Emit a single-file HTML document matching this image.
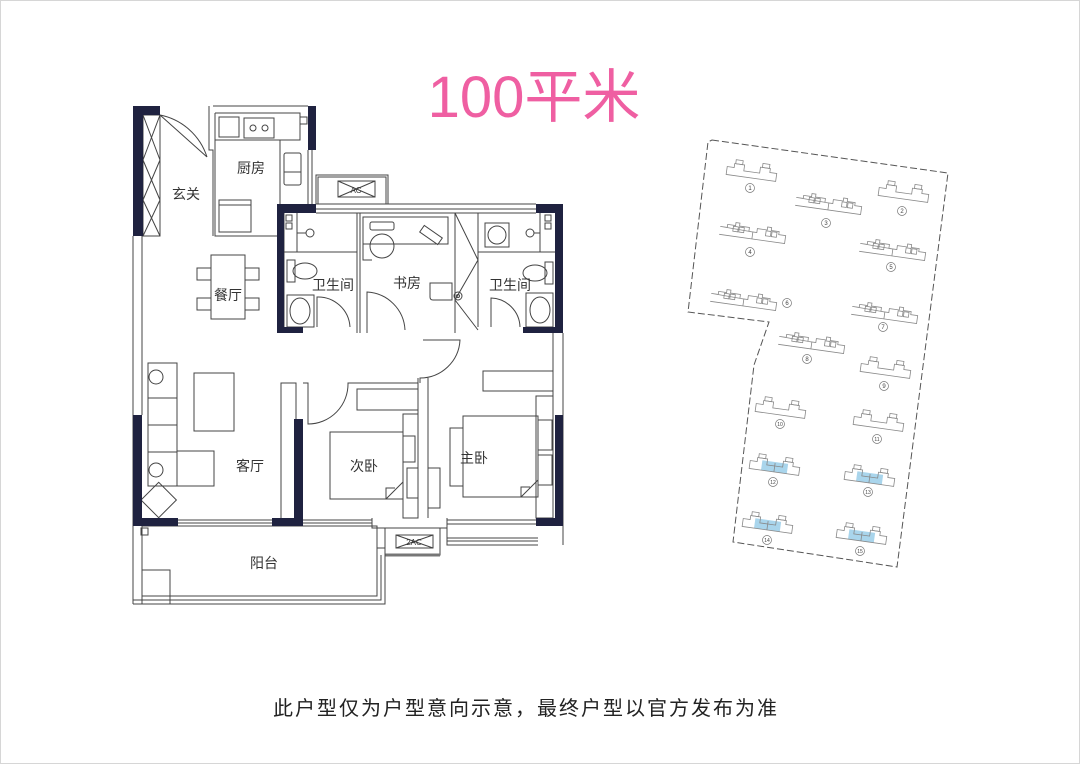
<!DOCTYPE html>
<html><head><meta charset="utf-8"><style>
html,body{margin:0;padding:0;background:#fff}
body{width:1080px;height:764px;overflow:hidden;position:relative;font-family:"Liberation Sans","Noto Sans CJK SC",sans-serif}
.frame{position:absolute;left:0;top:0;width:1078px;height:762px;border:1px solid #d6d6d6;}
</style></head><body><div class="frame"></div>
<svg width="1080" height="764" viewBox="0 0 1080 764" style="position:absolute;left:0;top:0" font-family="Liberation Sans, Noto Sans CJK SC, sans-serif">
<text x="534" y="117" text-anchor="middle" font-size="58" fill="#ef5fa2">100平米</text>
<text x="526" y="715" text-anchor="middle" font-size="20" letter-spacing="2" fill="#222">此户型仅为户型意向示意，最终户型以官方发布为准</text>

<g fill="none" stroke="#444" stroke-width="1">
<line x1="133" y1="236" x2="133" y2="604"/><line x1="142" y1="236" x2="142" y2="415"/>
<rect x="143" y="115" width="17" height="121"/>
<path d="M143 115 L160 160 M160 115 L143 160 M143 160 L160 200 M160 160 L143 200 M143 200 L160 236 M160 200 L143 236"/>
<path d="M160 115 L207 157 M160 115 A62 62 0 0 1 207 157"/>
<path d="M209 106 V150 H213 V236 M213 106 H308 M215 113 H300 V140 H280 V204 M215 113 V236 H277 M215 140 H280"/>
<rect x="219" y="117" width="20" height="20"/><rect x="244" y="118" width="30" height="20"/>
<circle cx="253" cy="128" r="3"/><circle cx="265" cy="128" r="3"/>
<rect x="284" y="153" width="17" height="32" rx="2"/><line x1="284" y1="172" x2="301" y2="172"/>
<rect x="219" y="200" width="32" height="32"/><line x1="219" y1="205" x2="251" y2="205"/>
<rect x="300" y="117" width="7" height="7"/>
<path d="M308 150 V204 M312 150 V204"/>
<rect x="316" y="175" width="72" height="29"/><rect x="318" y="177" width="68" height="27"/>
<rect x="338" y="181" width="37" height="16"/><path d="M338 181 L375 197 M375 181 L338 197"/>
<path d="M316 204 H536 M316 209 H536 M316 213 H536"/>
<path d="M284 213 V327 M357 213 V333 M360 213 V333 M284 252 H357 M297 213 V252"/>
<rect x="286" y="215" width="6" height="6"/><rect x="286" y="223" width="6" height="6"/>
<circle cx="310" cy="233" r="4"/><line x1="297" y1="233" x2="306" y2="233"/>
<rect x="287" y="260" width="8" height="22"/><ellipse cx="305" cy="271" rx="12" ry="8"/>
<rect x="287" y="295" width="27" height="32"/><ellipse cx="300" cy="311" rx="10" ry="13"/>
<path d="M317 327 V297 A32 32 0 0 1 350 327"/>
<rect x="363" y="217" width="85" height="27"/><path d="M363 244 V260 H372"/>
<rect x="370" y="222" width="24" height="8" rx="2"/><circle cx="382" cy="246" r="12"/>
<rect x="420" y="231" width="22" height="8" transform="rotate(35 431 235)"/>
<path d="M430 283 H452 V300 H433 Q430 300 430 297 Z"/>
<path d="M367 333 V292 A40 40 0 0 1 405 330"/>
<path d="M455 213 V333 M478 213 V327 M455 213 L478 260 L455 300 L478 330"/>
<circle cx="458" cy="296" r="4"/><circle cx="458" cy="296" r="1.5"/>
<path d="M478 252 H555 M540 213 V252"/>
<rect x="485" y="223" width="24" height="24"/><circle cx="497" cy="235" r="9"/>
<circle cx="530" cy="233" r="4"/><line x1="534" y1="233" x2="540" y2="233"/>
<rect x="545" y="215" width="6" height="6"/><rect x="545" y="223" width="6" height="6"/>
<rect x="545" y="262" width="8" height="22"/><ellipse cx="535" cy="273" rx="12" ry="8"/>
<rect x="526" y="293" width="27" height="34"/><ellipse cx="540" cy="310" rx="10" ry="13"/>
<path d="M491 327 V298 A30 30 0 0 1 520 327"/>
<path d="M553 333 V415 M563 333 V545 M423 340 H460 A40 40 0 0 1 420 378 V383"/>
<rect x="148" y="363" width="29" height="123"/><path d="M148 398 H177 M148 425 H177 M148 452 H177"/>
<rect x="177" y="451" width="37" height="35"/>
<rect x="194" y="373" width="40" height="58"/>
<circle cx="156" cy="377" r="7"/><circle cx="156" cy="470" r="7"/>
<rect x="146" y="487" width="25" height="25" transform="rotate(45 158 500)"/>
<rect x="281" y="383" width="15" height="137"/>
<rect x="211" y="255" width="34" height="64"/>
<rect x="197" y="268" width="14" height="12"/><rect x="197" y="298" width="14" height="12"/>
<rect x="245" y="268" width="14" height="12"/><rect x="245" y="298" width="14" height="12"/>
<path d="M303 383 H308 V424 A40 40 0 0 0 348 383 H418 M308 383 V424"/>
<rect x="357" y="389" width="61" height="21"/>
<rect x="330" y="432" width="73" height="67"/><path d="M386 499 L403 482 M386 499 V488 H395"/>
<rect x="403" y="414" width="15" height="104"/><rect x="403" y="436" width="12" height="26"/><rect x="407" y="468" width="11" height="30"/>
<path d="M418 378 V518 M428 378 V518"/>
<rect x="428" y="468" width="12" height="40"/>
<rect x="483" y="371" width="70" height="20"/>
<rect x="463" y="416" width="75" height="81"/><path d="M521 497 L538 480 M521 497 V487 H530"/>
<rect x="450" y="428" width="13" height="58"/>
<rect x="536" y="396" width="17" height="122"/><rect x="538" y="420" width="14" height="30"/><rect x="538" y="455" width="14" height="30"/>
<path d="M178 520 H272 M178 523 H272 M303 520 H372 M303 523 H372 M447 520 H536 M447 524 H536"/>
<path d="M372 518 V528 H447 V518 M447 528 V545 H538 M447 538 H538 M447 541 H538"/>
<rect x="385" y="528" width="55" height="27"/><rect x="396" y="535" width="37" height="13"/>
<path d="M396 535 L433 548 M433 535 L396 548"/>
<line x1="385" y1="555" x2="440" y2="555" stroke-width="3" stroke="#777"/>
<path d="M142 526 H377 V596 H142 Z M377 548 H385 V604 H133 M381 555 V600 H133"/>
<rect x="142" y="570" width="28" height="34"/><rect x="141" y="528" width="7" height="7"/>
</g>
<g fill="#1f2240">
<rect x="133" y="106" width="10" height="130"/><rect x="133" y="106" width="27" height="9"/>
<rect x="308" y="106" width="8" height="44"/>
<rect x="277" y="204" width="7" height="129"/><rect x="277" y="204" width="39" height="9"/><rect x="277" y="327" width="26" height="6"/>
<rect x="555" y="204" width="8" height="129"/><rect x="536" y="204" width="27" height="9"/><rect x="523" y="327" width="40" height="6"/>
<rect x="133" y="415" width="9" height="111"/><rect x="133" y="518" width="45" height="8"/>
<rect x="294" y="419" width="9" height="107"/><rect x="272" y="518" width="31" height="8"/>
<rect x="555" y="415" width="8" height="111"/><rect x="536" y="518" width="27" height="8"/>
</g>
<g font-size="14" fill="#333" text-anchor="middle">
<text x="251" y="173">厨房</text><text x="186" y="199">玄关</text><text x="228" y="300">餐厅</text>
<text x="333" y="290">卫生间</text><text x="407" y="288">书房</text><text x="510" y="290">卫生间</text>
<text x="250" y="471">客厅</text><text x="364" y="471">次卧</text><text x="474" y="463">主卧</text><text x="264" y="568">阳台</text>
</g>
<text x="356" y="193" font-size="8" fill="#333" text-anchor="middle">AC</text>
<text x="414" y="545" font-size="8" fill="#333" text-anchor="middle">2AC</text>

<defs>
<g id="s"><path d="M-25 8 H25 V0 H18 V-4 H8 V2 H-8 V-4 H-18 V0 H-25 Z"/><rect x="-17" y="-8" width="7" height="4"/><rect x="10" y="-8" width="7" height="4"/></g>
<g id="d"><path d="M-33 8 H33 V0 H26 V-3 H18 V-6 H14 V-3 H4 V1 H0 V8 M0 1 H-4 V-3 H-14 V-6 H-18 V-3 H-26 V0 H-33 Z"/><rect x="-20" y="-2" width="5" height="5"/><rect x="-14" y="-2" width="5" height="5"/><rect x="13" y="-2" width="5" height="5"/><rect x="19" y="-2" width="5" height="5"/></g>
<g id="b"><rect x="-13" y="-2" width="26" height="10" fill="#a9d5ec" stroke="none"/><use href="#s"/><line x1="0" y1="-1" x2="0" y2="8"/></g>
</defs>
<path d="M712 140 L948 173 L897 567 L733 542 L754 365 L769 322 L688 312 L708 142 Z" fill="none" stroke="#555" stroke-width="1" stroke-dasharray="7,3"/>
<g fill="none" stroke="#888" stroke-width="0.8">
<use href="#s" transform="translate(752,170) rotate(8)"/>
<use href="#s" transform="translate(904,191) rotate(8)"/>
<use href="#d" transform="translate(829,202) rotate(8)"/>
<use href="#d" transform="translate(753,231) rotate(8)"/>
<use href="#d" transform="translate(893,248) rotate(8)"/>
<use href="#d" transform="translate(744,298) rotate(8)"/>
<use href="#d" transform="translate(885,311) rotate(8)"/>
<use href="#d" transform="translate(812,341) rotate(8)"/>
<use href="#s" transform="translate(886,367) rotate(8)"/>
<use href="#s" transform="translate(781,407) rotate(8)"/>
<use href="#s" transform="translate(879,420) rotate(8)"/>
<use href="#b" transform="translate(775,464) rotate(8)"/>
<use href="#b" transform="translate(870,475) rotate(8)"/>
<use href="#b" transform="translate(768,522) rotate(8)"/>
<use href="#b" transform="translate(862,533) rotate(8)"/>
</g>
<g font-size="6" fill="#444" text-anchor="middle">
<g fill="none" stroke="#777" stroke-width="0.7">
<circle cx="750" cy="188" r="4.5"/><circle cx="902" cy="211" r="4.5"/><circle cx="826" cy="223" r="4.5"/><circle cx="750" cy="252" r="4.5"/><circle cx="891" cy="267" r="4.5"/><circle cx="787" cy="303" r="4.5"/><circle cx="883" cy="327" r="4.5"/><circle cx="807" cy="359" r="4.5"/><circle cx="884" cy="386" r="4.5"/><circle cx="780" cy="424" r="4.5"/><circle cx="877" cy="439" r="4.5"/><circle cx="773" cy="482" r="4.5"/><circle cx="868" cy="492" r="4.5"/><circle cx="767" cy="540" r="4.5"/><circle cx="860" cy="551" r="4.5"/>
</g>
<text x="750" y="190">1</text><text x="902" y="213">2</text><text x="826" y="225">3</text><text x="750" y="254">4</text><text x="891" y="269">5</text><text x="787" y="305">6</text><text x="883" y="329">7</text><text x="807" y="361">8</text><text x="884" y="388">9</text><text x="780" y="426" font-size="5">10</text><text x="877" y="441" font-size="5">11</text><text x="773" y="484" font-size="5">12</text><text x="868" y="494" font-size="5">13</text><text x="767" y="542" font-size="5">14</text><text x="860" y="553" font-size="5">15</text>
</g>
</svg>
</body></html>
